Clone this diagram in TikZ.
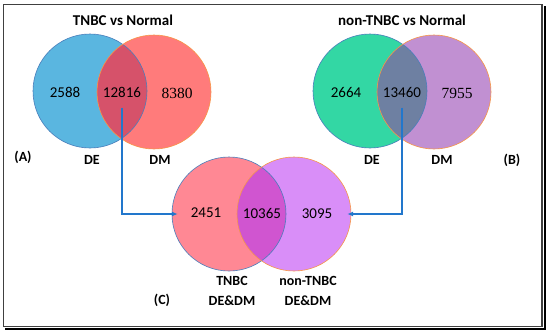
\documentclass[tikz,border=0pt]{standalone}
\usepackage{fontspec}
\setmainfont{Carlito}
\newfontfamily\numserif{Liberation Serif}
\usetikzlibrary{arrows.meta}
\definecolor{adecol}{HTML}{5AB6E0}
\definecolor{admcol}{HTML}{FF7B7B}
\definecolor{aovlcol}{HTML}{D6526A}
\definecolor{bdecol}{HTML}{33D7A4}
\definecolor{bdmcol}{HTML}{C190D2}
\definecolor{bovlcol}{HTML}{6E80A2}
\definecolor{clcol}{HTML}{FF8894}
\definecolor{crcol}{HTML}{D98EF8}
\definecolor{covlcol}{HTML}{D055D0}
\definecolor{rimblue}{HTML}{4A7EBB}
\definecolor{rimorange}{HTML}{F79646}
\definecolor{linkblue}{HTML}{2277CC}

\begin{document}
\begin{tikzpicture}[x=1pt,y=-1pt,
  venn/.style={circle,minimum size=114pt,inner sep=0pt},
  num/.style={font=\fontsize{15}{18}\selectfont},
  snum/.style={font=\fontsize{15.5}{18}\selectfont\numserif},
  lab/.style={font=\fontsize{14}{20}\selectfont\bfseries,align=center},
  link/.style={-{Latex[length=6pt,width=5pt]},line width=1.3pt,draw=linkblue}]
\useasboundingbox (0,0) rectangle (550,333);
% frame
\draw[black!75,line width=1.5pt] (3.5,4.5) rectangle (542,326.5);
\draw[black,line width=2pt] (544.5,6) -- (544.5,329) -- (5,329);

% (A) TNBC vs Normal
\node[venn,fill=adecol] (ade) at (90,91) {};
\node[venn,fill=admcol] (adm) at (154,92) {};
\begin{scope}
\clip (ade.center) circle[radius=57pt];
\fill[aovlcol] (adm.center) circle[radius=57pt];
\end{scope}
\draw[rimblue,line width=0.6pt] (ade.center) circle[radius=57pt];
\draw[rimorange,line width=0.6pt] (adm.center) circle[radius=57pt];

% (B) non-TNBC vs Normal
\node[venn,fill=bdecol] (bde) at (370,91) {};
\node[venn,fill=bdmcol] (bdm) at (434,92) {};
\begin{scope}
\clip (bde.center) circle[radius=57pt];
\fill[bovlcol] (bdm.center) circle[radius=57pt];
\end{scope}
\draw[rimblue,line width=0.6pt] (bde.center) circle[radius=57pt];
\draw[rimorange,line width=0.6pt] (bdm.center) circle[radius=57pt];

% (C) DE&DM
\node[venn,fill=clcol] (cl) at (229,214) {};
\node[venn,fill=crcol] (cr) at (294,214) {};
\begin{scope}
\clip (cl.center) circle[radius=57pt];
\fill[covlcol] (cr.center) circle[radius=57pt];
\end{scope}
\draw[rimblue,line width=0.6pt] (cl.center) circle[radius=57pt];
\draw[rimorange,line width=0.6pt] (cr.center) circle[radius=57pt];

% counts
\node[num] (aonly) at (65,92) {2588};
\node[num] (aboth) at (122,92) {12816};
\node[snum] (admonly) at (177,93) {8380};
\node[num] (bonly) at (346,92) {2664};
\node[num] (bboth) at (402,92) {13460};
\node[snum] (bdmonly) at (457,93) {7955};
\node[num] (conly) at (206,213) {2451};
\node[num] (cboth) at (262,213) {10365};
\node[num] (cronly) at (317,214) {3095};

% labels
\node[lab,font=\fontsize{15}{18}\selectfont\bfseries] (atitle) at (123,20) {TNBC vs Normal};
\node[lab,font=\fontsize{15}{18}\selectfont\bfseries] (btitle) at (402,20) {non-TNBC vs Normal};
\node[lab] (ade lab) at (92,160) {DE};
\node[lab] (adm lab) at (160,160) {DM};
\node[lab] (atag) at (23,157) {(A)};
\node[lab] (bde lab) at (372,160) {DE};
\node[lab] (bdm lab) at (442,160) {DM};
\node[lab] (btag) at (512,160) {(B)};
\node[lab] (cl lab) at (232,291) {TNBC\\DE\&DM};
\node[lab] (cr lab) at (308,291) {non-TNBC\\DE\&DM};
\node[lab] (ctag) at (162,300) {(C)};

% links
\draw[link] ([yshift=-7pt]aboth.south) |- ([xshift=6pt]cl.west);
\draw[link] ([yshift=-7pt]bboth.south) |- ([xshift=-4pt]cr.east);
\end{tikzpicture}
\end{document}
